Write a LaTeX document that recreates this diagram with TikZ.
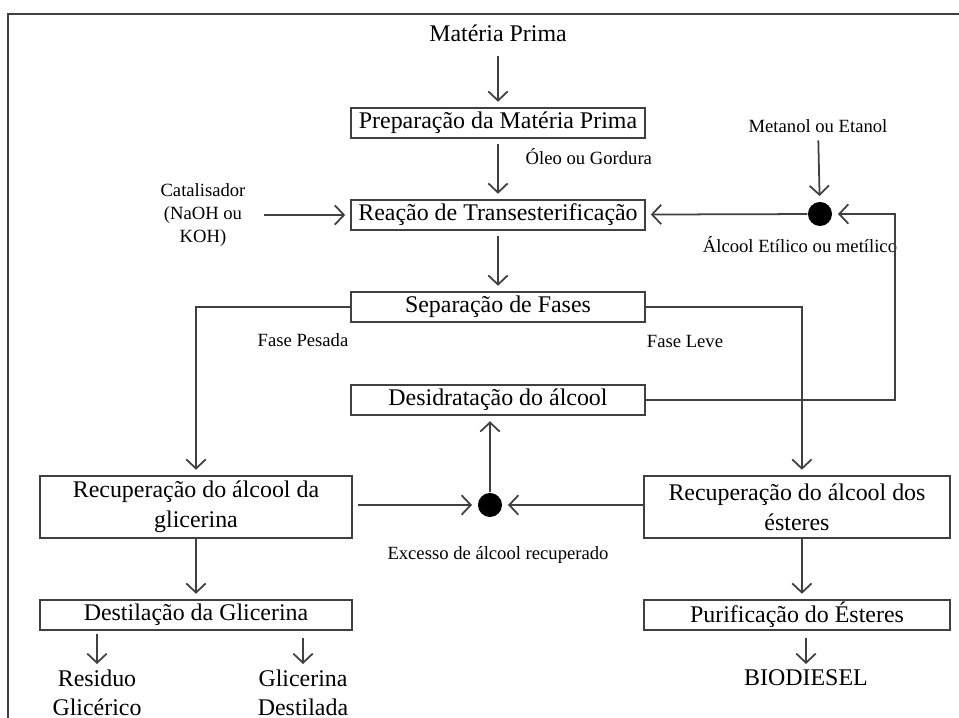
\documentclass[tikz,border=0pt]{standalone}
\usepackage{fontspec}
\setmainfont{Liberation Serif}
\usetikzlibrary{positioning, arrows.meta}

\begin{document}
\begin{tikzpicture}[x=0.01cm, y=-0.01cm,
    box/.style={draw=black!75, line width=0.55pt, inner sep=0pt, minimum width=2.93cm, minimum height=0.30cm, align=center, font=\fontsize{6.8}{8.5}\selectfont},
    bigbox/.style={box, minimum height=0.62cm},
    txt/.style={inner sep=0pt, align=center, font=\fontsize{6.8}{8.3}\selectfont},
    lbl/.style={inner sep=0pt, align=center, font=\fontsize{5.3}{6.5}\selectfont},
    flow/.style={draw=black!75, line width=0.5pt, -{Straight Barb[length=2.6pt,width=5.5pt]}, shorten >=1.5pt},
    dot/.style={circle, fill=black, inner sep=0pt, minimum size=0.24cm}]
            \useasboundingbox (0,0) rectangle (959,718);
            % Frame
            \draw[black!75, line width=0.6pt] (959,14) -- (8,14) -- (8,718);

            % Main column
            \node[txt] (mp) at (498,33) {Matéria Prima};
            \node[box] (prep) at (498,123) {Preparação da Matéria Prima};
            \node[box] (reac) at (498,215) {Reação de Transesterificação};
            \node[box] (sep) at (498,307) {Separação de Fases};
            \node[box] (desid) at (498,400) {Desidratação do álcool};

            % Left branch (glicerina)
            \node[bigbox, minimum width=3.12cm] (recg) at (196,507) {Recuperação do álcool da\\glicerina};
            \node[box, minimum width=3.12cm] (dest) at (196,615) {Destilação da Glicerina};
            \node[txt] (resid) at (97,693) {Residuo\\Glicérico};
            \node[txt] (glic) at (303,693) {Glicerina\\Destilada};

            % Right branch (esteres)
            \node[bigbox, minimum width=3.06cm] (rece) at (797,507) {Recuperação do álcool dos\\ésteres};
            \node[box, minimum width=3.06cm] (pur) at (797,615) {Purificação do Ésteres};
            \node[txt] (bio) at (806,678) {BIODIESEL};

            % Mixing points
            \node[dot] (mix1) at (820,214) {};
            \node[dot] (mix2) at (490,505) {};
            \coordinate (ret) at (895,214);

            % Labels
            \node[lbl] (cat) at (203,215) {Catalisador\\(NaOH ou\\KOH)};
            \node[lbl, anchor=west] (oleo) at (525,157) {Óleo ou Gordura};
            \node[lbl] (met) at (818,126) {Metanol ou Etanol};
            \node[lbl] (alc) at (800,245) {Álcool Etílico ou metílico};
            \node[lbl] (pes) at (303,340) {Fase Pesada};
            \node[lbl] (lev) at (685,341) {Fase Leve};
            \node[lbl] (exc) at (498,555) {Excesso de álcool recuperado};

            % Flows
            \draw[flow, shorten <=4pt] (mp) -- (prep);
            \draw[flow, shorten <=1.5pt] (prep) -- (reac);
            \draw[flow, shorten <=5pt] (cat) -- (reac);
            \draw[flow, shorten <=2pt] (met) -- (mix1);
            \draw[flow] (mix1) -- (reac);
            \draw[flow] (desid.east) -| (ret) -- (mix1);
            \draw[flow, shorten <=1.5pt] (reac) -- (sep);
            \draw[flow] (sep.west) -| (recg.north);
            \draw[flow] (sep.east) -| ([xshift=1.4pt]rece.north);
            \draw[flow] (mix2) -- (mix2 |- desid.south);
            \draw[flow, shorten <=1.5pt] (recg.east |- mix2) -- (mix2);
            \draw[flow] (rece.west |- mix2) -- (mix2);
            \draw[flow] (recg) -- (dest);
            \draw[flow] ([xshift=1.4pt]rece.south) -- ([xshift=1.4pt]pur.north);
            \draw[flow, shorten <=1pt] (dest.south -| resid) -- (resid);
            \draw[flow, shorten <=2pt] (dest.south -| glic) -- (glic);
            \draw[flow, shorten <=2pt] (pur.south -| bio) -- (bio);
        \end{tikzpicture}
\end{document}
